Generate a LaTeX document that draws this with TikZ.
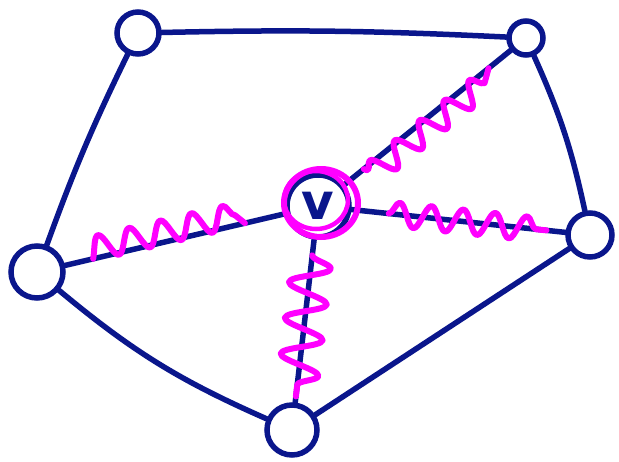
\documentclass[tikz,border=0pt]{standalone}
\usetikzlibrary{decorations.pathmorphing,calc}
\usepackage{fontspec}
\newfontfamily\vfont{DejaVu Sans}
\definecolor{ink}{RGB}{10,22,140}
\definecolor{hl}{RGB}{255,0,255}
\begin{document}
\begin{tikzpicture}[x=1pt,y=-1pt,
  vert/.style={circle,draw=ink,line width=5.5pt,inner sep=0pt},
  edge/.style={draw=ink,line width=5.5pt,line cap=round},
  wave/.style={draw=hl,line width=6pt,line cap=round,line join=round,
    decorate,decoration={snake,amplitude=#1,segment length=32pt}},
  wave/.default=12pt]
\useasboundingbox (0,0) rectangle (619,461);
\node[vert,minimum size=42pt] (TL) at (138,33) {};
\node[vert,minimum size=34pt] (TR) at (526,38) {};
\node[vert,minimum size=44pt] (R) at (590,235) {};
\node[vert,minimum size=50pt] (B) at (292,430) {};
\node[vert,minimum size=52pt] (L) at (37,272) {};
\node[vert,minimum size=62pt,text=ink,font=\vfont\bfseries\fontsize{50}{50}\selectfont] (V) at (318,206) {v};
% outer edges
\path[edge] (TL) to[bend left=2] (TR);
\path[edge] (TR) to[bend left=6] (R);
\path[edge] (R) -- (B);
\path[edge] (B) to[bend left=8] (L);
\path[edge] (L) to[bend left=3] (TL);
% spokes
\path[edge] (V) -- (TR);
\path[edge] (V) -- (R);
\path[edge] (V) -- (B);
\path[edge] (V) -- (L);
% highlights
\draw[hl,line width=6pt] (321,203) ellipse[x radius=37pt,y radius=34pt];
\draw[hl,line width=4.5pt] (316,200) ellipse[x radius=32pt,y radius=29pt];
\coordinate (l1) at ($(V)!0.26!(L)$);
\coordinate (l2) at ($(V)!0.8!(L)$);
\coordinate (t1) at ($(V)!0.22!(TR)$);
\coordinate (t2) at ($(V)!0.82!(TR)$);
\coordinate (r1) at ($(V)!0.26!(R)$);
\coordinate (r2) at ($(V)!0.84!(R)$);
\coordinate (b1) at ($(V)!0.22!(B)$);
\coordinate (b2) at ($(V)!0.85!(B)$);
\path[wave,decoration={raise=10pt}] (l2) -- (l1);
\path[wave,decoration={raise=-9pt}] (t1) -- (t2);
\path[wave] (r1) -- (r2);
\path[wave=20pt,decoration={segment length=36pt}] (b1) -- (b2);
\end{tikzpicture}
\end{document}
